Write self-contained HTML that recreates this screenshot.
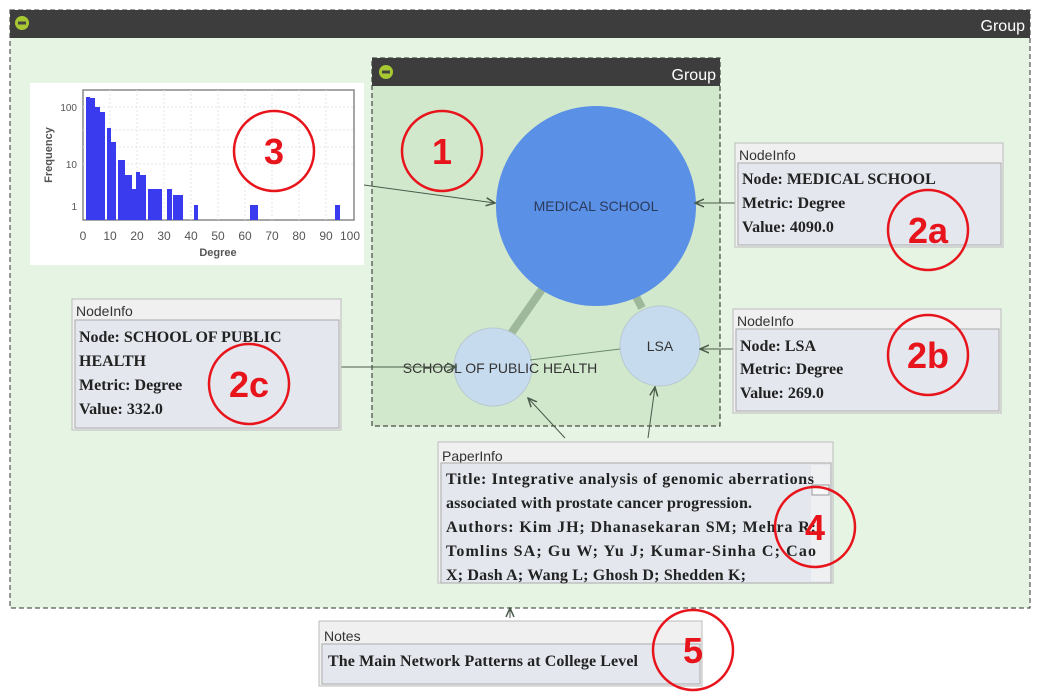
<!DOCTYPE html>
<html><head><meta charset="utf-8"><style>
html,body{margin:0;padding:0;background:#fff;width:1038px;height:696px;overflow:hidden}
svg{display:block}
.s{font-family:"Liberation Sans",sans-serif}
.r{font-family:"Liberation Serif",serif}
</style></head><body>
<svg width="1038" height="696" viewBox="0 0 1038 696" xmlns="http://www.w3.org/2000/svg">
<defs>
<marker id="ar" markerWidth="10" markerHeight="10" refX="9" refY="5" orient="auto" markerUnits="userSpaceOnUse"><path d="M0,1 L9,5 L0,9" fill="none" stroke="#4a5a4a" stroke-width="1.5"/></marker>
</defs>
<rect x="10" y="10" width="1020" height="598" fill="#e6f4e4" stroke="#333" stroke-dasharray="5,3"/>
<rect x="10" y="10" width="1020" height="28" fill="#3d3d3d"/>
<circle cx="22" cy="23" r="7" fill="#a8c832"/><rect x="18" y="21.5" width="8" height="3" fill="#444"/>
<text x="1025" y="31" text-anchor="end" class="s" font-size="16" fill="#fff">Group</text>
<rect x="372" y="58" width="348" height="368" fill="#d2e8cc" stroke="#222" stroke-dasharray="5,3"/>
<rect x="372" y="58" width="348" height="28" fill="#3d3d3d"/>
<circle cx="386" cy="72" r="7" fill="#a8c832"/><rect x="382" y="70.5" width="8" height="3" fill="#444"/>
<text x="716" y="80" text-anchor="end" class="s" font-size="16" fill="#fff">Group</text>
<line x1="510" y1="335" x2="545" y2="285" stroke="#9db89a" stroke-width="8"/>
<line x1="642" y1="308" x2="630" y2="285" stroke="#9db89a" stroke-width="8"/>
<circle cx="596" cy="206" r="100" fill="#5a90e6"/>
<circle cx="493" cy="367" r="39" fill="#c6dcee" stroke="#b8c8d0"/>
<circle cx="660" cy="346" r="40" fill="#c6dcee" stroke="#b8c8d0"/>
<line x1="530" y1="360" x2="620" y2="349" stroke="#6a8a6a" stroke-width="1"/>
<text x="596" y="211" text-anchor="middle" class="s" font-size="14" fill="#2a3a5a">MEDICAL SCHOOL</text>
<text x="660" y="351" text-anchor="middle" class="s" font-size="14" fill="#333">LSA</text>
<text x="500" y="373" text-anchor="middle" class="s" font-size="14" fill="#333">SCHOOL OF PUBLIC HEALTH</text>
<rect x="30" y="83" width="334" height="182" fill="#fff"/>
<rect x="83" y="90" width="271" height="130" fill="#fff" stroke="#888" stroke-width="1.5"/>
<g stroke="#e4e4e4" stroke-dasharray="2,2">
<line x1="110" y1="90" x2="110" y2="220"/><line x1="137" y1="90" x2="137" y2="220"/><line x1="164" y1="90" x2="164" y2="220"/><line x1="191" y1="90" x2="191" y2="220"/><line x1="218" y1="90" x2="218" y2="220"/><line x1="245" y1="90" x2="245" y2="220"/><line x1="272" y1="90" x2="272" y2="220"/><line x1="299" y1="90" x2="299" y2="220"/><line x1="326" y1="90" x2="326" y2="220"/>
<line x1="83" y1="107" x2="354" y2="107"/><line x1="83" y1="164" x2="354" y2="164"/><line x1="83" y1="130" x2="354" y2="130"/><line x1="83" y1="147" x2="354" y2="147"/>
</g>
<g fill="#3a3aee">
<rect x="86" y="97" width="4" height="123"/><rect x="90" y="98" width="5" height="122"/><rect x="95" y="107" width="5" height="113"/><rect x="100" y="112" width="5" height="108"/><rect x="107" y="128" width="4" height="92"/><rect x="111" y="142" width="5" height="78"/><rect x="118" y="160" width="7" height="60"/><rect x="125" y="175" width="7" height="45"/><rect x="132" y="189" width="4" height="31"/><rect x="136" y="172" width="4" height="48"/><rect x="140" y="175" width="6" height="45"/><rect x="148" y="189" width="14" height="31"/><rect x="167" y="189" width="5" height="31"/><rect x="173" y="195" width="10" height="25"/><rect x="194" y="205" width="4" height="15"/><rect x="250" y="205" width="8" height="15"/><rect x="335" y="205" width="5" height="15"/>
</g>
<g class="s" font-size="12" fill="#555">
<text x="77" y="111" text-anchor="end" font-size="10">100</text><text x="77" y="168" text-anchor="end" font-size="10">10</text><text x="77" y="210" text-anchor="end" font-size="10">1</text>
<text x="83" y="240" text-anchor="middle">0</text><text x="110" y="240" text-anchor="middle">10</text><text x="137" y="240" text-anchor="middle">20</text><text x="164" y="240" text-anchor="middle">30</text><text x="191" y="240" text-anchor="middle">40</text><text x="218" y="240" text-anchor="middle">50</text><text x="245" y="240" text-anchor="middle">60</text><text x="272" y="240" text-anchor="middle">70</text><text x="299" y="240" text-anchor="middle">80</text><text x="326" y="240" text-anchor="middle">90</text><text x="350" y="240" text-anchor="middle">100</text>
<text x="218" y="256" text-anchor="middle" font-weight="bold" font-size="11">Degree</text>
<text transform="translate(52,155) rotate(-90)" text-anchor="middle" font-weight="bold" font-size="11">Frequency</text>
</g>
<line x1="364" y1="185" x2="495" y2="203" stroke="#4a5a4a" marker-end="url(#ar)"/>
<line x1="735" y1="203" x2="695" y2="203" stroke="#4a5a4a" marker-end="url(#ar)"/>
<line x1="733" y1="349" x2="700" y2="349" stroke="#4a5a4a" marker-end="url(#ar)"/>
<line x1="341" y1="367" x2="456" y2="367" stroke="#4a5a4a" marker-end="url(#ar)"/>
<line x1="565" y1="438" x2="528" y2="398" stroke="#4a5a4a" marker-end="url(#ar)"/>
<line x1="648" y1="438" x2="655" y2="387" stroke="#4a5a4a" marker-end="url(#ar)"/>
<line x1="510" y1="618" x2="510" y2="608" stroke="#4a5a4a" marker-end="url(#ar)"/>
<rect x="735" y="143" width="268" height="104" fill="#f0f0f0" stroke="#bbb"/>
<text x="739" y="160" class="s" font-size="14" fill="#333">NodeInfo</text>
<rect x="738" y="163" width="263" height="82" fill="#e4e8ee" stroke="#aaa"/>
<g class="r" font-size="16" font-weight="bold" fill="#222"><text x="742" y="184">Node: MEDICAL SCHOOL</text><text x="742" y="208">Metric: Degree</text><text x="742" y="232">Value: 4090.0</text></g>
<rect x="733" y="309" width="268" height="104" fill="#f0f0f0" stroke="#bbb"/>
<text x="737" y="326" class="s" font-size="14" fill="#333">NodeInfo</text>
<rect x="736" y="329" width="263" height="82" fill="#e4e8ee" stroke="#aaa"/>
<g class="r" font-size="16" font-weight="bold" fill="#222"><text x="740" y="351">Node: LSA</text><text x="740" y="374">Metric: Degree</text><text x="740" y="398">Value: 269.0</text></g>
<rect x="72" y="299" width="269" height="131" fill="#f0f0f0" stroke="#bbb"/>
<text x="76" y="316" class="s" font-size="14" fill="#333">NodeInfo</text>
<rect x="75" y="320" width="264" height="108" fill="#e4e8ee" stroke="#aaa"/>
<g class="r" font-size="16" font-weight="bold" fill="#222"><text x="79" y="342">Node: SCHOOL OF PUBLIC</text><text x="79" y="366">HEALTH</text><text x="79" y="390">Metric: Degree</text><text x="79" y="414">Value: 332.0</text></g>
<rect x="438" y="442" width="395" height="141" fill="#f0f0f0" stroke="#bbb"/>
<text x="442" y="461" class="s" font-size="14" fill="#333">PaperInfo</text>
<rect x="441" y="463" width="390" height="120" fill="#e4e8ee" stroke="#aaa"/>
<rect x="811" y="465" width="19" height="116" fill="#eef0f2"/>
<rect x="812" y="485" width="17" height="10" fill="#f8f8f8" stroke="#999"/>
<g class="r" font-size="16" font-weight="bold" fill="#222"><text x="446" y="484" textLength="368" lengthAdjust="spacing">Title:  Integrative analysis of genomic aberrations</text><text x="446" y="508" textLength="306" lengthAdjust="spacing">associated with prostate cancer progression.</text><text x="446" y="532" textLength="370" lengthAdjust="spacing">Authors:  Kim JH; Dhanasekaran SM; Mehra R;</text><text x="446" y="556" textLength="370" lengthAdjust="spacing">Tomlins SA; Gu W; Yu J; Kumar-Sinha C; Cao</text><text x="446" y="580" textLength="300" lengthAdjust="spacing">X; Dash A; Wang L; Ghosh D; Shedden K;</text></g>
<rect x="319" y="621" width="383" height="65" fill="#f0f0f0" stroke="#bbb"/>
<text x="324" y="641" class="s" font-size="14" fill="#333">Notes</text>
<rect x="322" y="644" width="378" height="40" fill="#e4e8ee" stroke="#aaa"/>
<text x="328" y="666" class="r" font-size="16" font-weight="bold" fill="#222" textLength="310" lengthAdjust="spacing">The Main Network Patterns at College Level</text>
<g fill="none" stroke="#e8141c" stroke-width="2.5">
<circle cx="274" cy="151" r="40"/><circle cx="442" cy="151" r="40"/><circle cx="928" cy="230" r="40"/><circle cx="928" cy="355" r="40"/><circle cx="249" cy="384" r="40"/><circle cx="815" cy="527" r="40"/><circle cx="693" cy="650" r="40"/>
</g>
<g class="s" font-size="36" font-weight="bold" fill="#e8141c" text-anchor="middle">
<text x="274" y="164">3</text><text x="442" y="164">1</text><text x="928" y="243">2a</text><text x="928" y="368">2b</text><text x="249" y="397">2c</text><text x="815" y="540">4</text><text x="693" y="663">5</text>
</g>
</svg>
</body></html>
